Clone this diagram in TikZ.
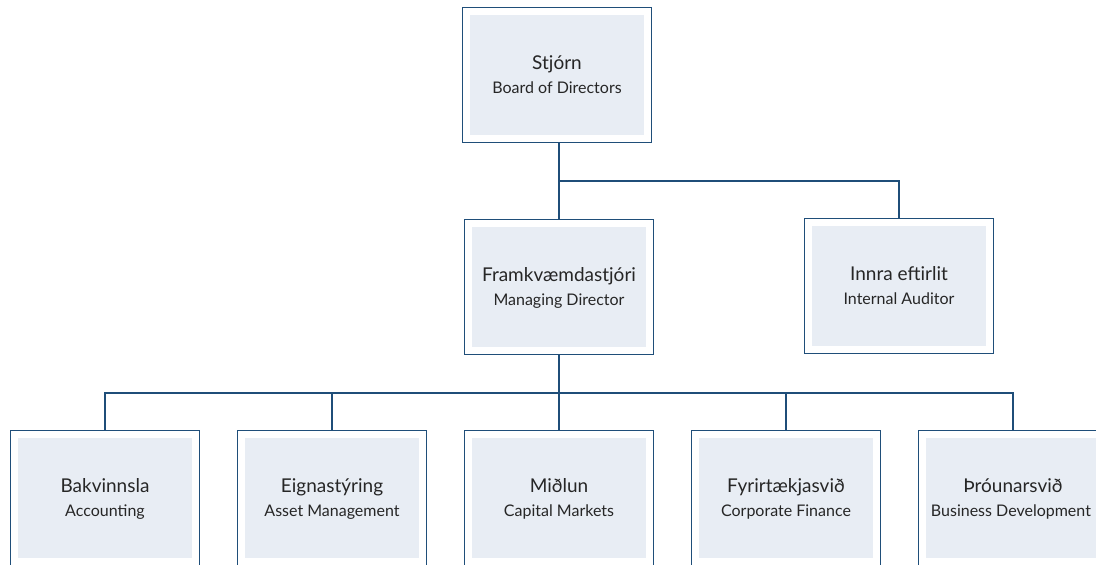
\documentclass[tikz,border=0pt]{standalone}
\usepackage{fontspec}
\setmainfont{Lato}
\definecolor{frame}{HTML}{1F4E79}
\definecolor{boxfill}{HTML}{E8EDF4}
\definecolor{ink}{HTML}{262626}
\newcommand{\unittext}[2]{{\fontsize{19}{24}\selectfont\rule[-7.2pt]{0pt}{27pt}#1}\\#2\strut}
\begin{document}
\begin{tikzpicture}[x=1pt, y=-1pt]
        \tikzstyle{unit} = [fill=boxfill, minimum width=174pt, minimum height=120pt, inner sep=0pt, outer sep=8pt,
            text=ink, align=center, font=\fontsize{16}{24}\selectfont,
            preaction={draw=frame, line width=16pt}, preaction={draw=white, line width=14pt}]
        \tikzstyle{link} = [draw=frame, line width=1.2pt]

        \useasboundingbox (0,0) rectangle (1096,565);

        \node[unit] (board) at (557,75) {\unittext{Stjórn}{Board of Directors}};
        \node[unit] (md) at (559,287) {\unittext{Framkvæmdastjóri}{Managing Director}};
        \node[unit] (audit) at (899,286) {\unittext{Innra eftirlit}{Internal Auditor}};

        \foreach \i/\x/\nome/\eng in {
            1/105/{Bakvinnsla}/{Accounting},
            2/332/{Eignastýring}/{Asset Management},
            3/559/{Miðlun}/{Capital Markets},
            4/786/{Fyrirtækjasvið}/{Corporate Finance},
            5/1013/{Þróunarsvið}/{Business Development}
        } {
            \node[unit] (dept\i) at (\x,498) {\unittext{\nome}{\eng}};
        }

        \coordinate (split) at (559,181);
        \coordinate (branch) at (559,393);
        \draw[link] (board.south -| split) -- (split) -| (audit.north);
        \draw[link] (split) -- (md.north);
        \draw[link] (md.south) -- (branch);
        \foreach \i in {1,...,5} {
            \draw[link] (branch) -| (dept\i.north);
        }
    \end{tikzpicture}
\end{document}
